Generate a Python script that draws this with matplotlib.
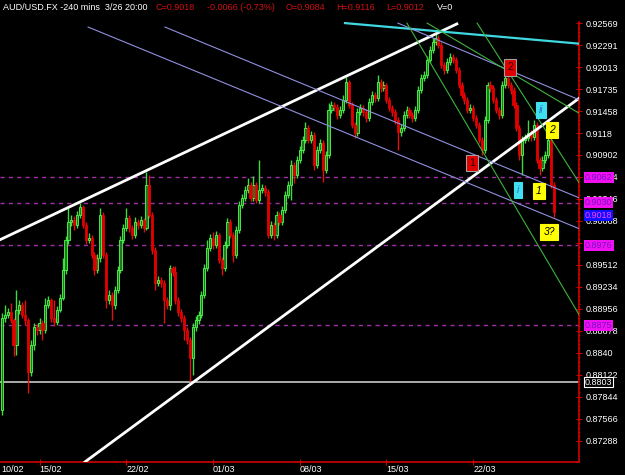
import matplotlib
matplotlib.use("Agg")
import matplotlib.pyplot as plt
from matplotlib.transforms import blended_transform_factory
import numpy as np

# AUD/USD 4h candles, 10/02 -> 26/03 20:00 (open of each bar = previous close)
first_open = 0.8768
closes = [
    0.8884, 0.8888, 0.8892, 0.8881, 0.8850, 0.8894, 0.8900, 0.8888, 0.8881, 0.8816,
    0.8850, 0.8873, 0.8869, 0.8878, 0.8869, 0.8900, 0.8907, 0.8884, 0.8879, 0.8894,
    0.8909, 0.8945, 0.8983, 0.9005, 0.9008, 0.9002, 0.9014, 0.9024, 0.9002, 0.8983,
    0.8985, 0.8964, 0.8945, 0.8960, 0.9014, 0.8964, 0.8907, 0.8913, 0.8900, 0.8919,
    0.8945, 0.8983, 0.8998, 0.9010, 0.8998, 0.8989, 0.9005, 0.9002, 0.9008, 0.8998,
    0.9052, 0.9014, 0.8970, 0.8928, 0.8932, 0.8928, 0.8907, 0.8900, 0.8947, 0.8942,
    0.8907, 0.8892, 0.8884, 0.8869, 0.8856, 0.8833, 0.8873, 0.8881, 0.8888, 0.8913,
    0.8947, 0.8973, 0.8985, 0.8976, 0.8989, 0.8957, 0.8947, 0.8976, 0.9005, 0.8989,
    0.8964, 0.8995, 0.9027, 0.9036, 0.9046, 0.9052, 0.9036, 0.9052, 0.9033, 0.9046,
    0.9048, 0.9043, 0.8989, 0.9002, 0.8989, 0.9014, 0.9005, 0.9021, 0.9040, 0.9052,
    0.9078, 0.9065, 0.9084, 0.9096, 0.9109, 0.9124, 0.9109, 0.9115, 0.9078, 0.9096,
    0.9105, 0.9071, 0.9090, 0.9147, 0.9153, 0.9151, 0.9141, 0.9147, 0.9160, 0.9182,
    0.9153, 0.9128, 0.9118, 0.9145, 0.9150, 0.9145, 0.9137, 0.9157, 0.9166, 0.9162,
    0.9182, 0.9175, 0.9179, 0.9160, 0.9150, 0.9145, 0.9134, 0.9119, 0.9124, 0.9141,
    0.9147, 0.9141, 0.9137, 0.9147, 0.9172, 0.9188, 0.9191, 0.9210, 0.9223, 0.9233,
    0.9238, 0.9229, 0.9204, 0.9198, 0.9208, 0.9214, 0.9210, 0.9198, 0.9179, 0.9166,
    0.9160, 0.9147, 0.9150, 0.9137, 0.9128, 0.9109, 0.9096, 0.9134, 0.9179, 0.9175,
    0.9160, 0.9147, 0.9141, 0.9179, 0.9188, 0.9179, 0.9172, 0.9153, 0.9124, 0.9090,
    0.9109, 0.9112, 0.9118, 0.9113, 0.9128, 0.9084, 0.9074, 0.9084, 0.9090, 0.9109,
    0.9052, 0.9018,
]
highs = [
    0.8890, 0.8900, 0.8897, 0.8903, 0.8884, 0.8919, 0.8907, 0.8904, 0.8907, 0.8884,
    0.8856, 0.8878, 0.8876, 0.8884, 0.8881, 0.8909, 0.8912, 0.8909, 0.8907, 0.8899,
    0.8914, 0.8960, 0.8988, 0.9023, 0.9014, 0.9013, 0.9019, 0.9029, 0.9027, 0.9005,
    0.8991, 0.8989, 0.8967, 0.8965, 0.9023, 0.9018, 0.8967, 0.8919, 0.8917, 0.8924,
    0.8950, 0.8988, 0.9003, 0.9023, 0.9014, 0.9002, 0.9012, 0.9009, 0.9013, 0.9010,
    0.9069, 0.9065, 0.9018, 0.8974, 0.8937, 0.8936, 0.8932, 0.8911, 0.8951, 0.8950,
    0.8950, 0.8911, 0.8895, 0.8888, 0.8873, 0.8860, 0.8878, 0.8887, 0.8893, 0.8918,
    0.8952, 0.8983, 0.8990, 0.8993, 0.8994, 0.8991, 0.8961, 0.8981, 0.9010, 0.9009,
    0.8993, 0.9000, 0.9032, 0.9041, 0.9051, 0.9061, 0.9056, 0.9064, 0.9056, 0.9084,
    0.9053, 0.9052, 0.9047, 0.9007, 0.9005, 0.9019, 0.9018, 0.9026, 0.9045, 0.9057,
    0.9084, 0.9081, 0.9089, 0.9102, 0.9114, 0.9132, 0.9128, 0.9121, 0.9119, 0.9102,
    0.9110, 0.9109, 0.9095, 0.9156, 0.9158, 0.9157, 0.9155, 0.9152, 0.9166, 0.9189,
    0.9185, 0.9157, 0.9132, 0.9150, 0.9155, 0.9153, 0.9148, 0.9162, 0.9171, 0.9170,
    0.9191, 0.9186, 0.9184, 0.9181, 0.9164, 0.9153, 0.9148, 0.9138, 0.9129, 0.9146,
    0.9152, 0.9151, 0.9145, 0.9152, 0.9177, 0.9193, 0.9196, 0.9215, 0.9228, 0.9238,
    0.9246, 0.9242, 0.9233, 0.9208, 0.9213, 0.9219, 0.9218, 0.9214, 0.9201, 0.9182,
    0.9170, 0.9164, 0.9155, 0.9153, 0.9141, 0.9132, 0.9113, 0.9139, 0.9182, 0.9184,
    0.9179, 0.9164, 0.9151, 0.9184, 0.9198, 0.9191, 0.9182, 0.9176, 0.9157, 0.9128,
    0.9114, 0.9117, 0.9134, 0.9122, 0.9134, 0.9132, 0.9088, 0.9089, 0.9095, 0.9115,
    0.9113, 0.9056,
]
lows = [
    0.8761, 0.8879, 0.8884, 0.8878, 0.8836, 0.8837, 0.8889, 0.8884, 0.8875, 0.8789,
    0.8811, 0.8844, 0.8862, 0.8864, 0.8856, 0.8865, 0.8897, 0.8879, 0.8874, 0.8875,
    0.8892, 0.8907, 0.8940, 0.8978, 0.9000, 0.8995, 0.8998, 0.9010, 0.8998, 0.8978,
    0.8979, 0.8960, 0.8938, 0.8941, 0.8955, 0.8960, 0.8897, 0.8902, 0.8881, 0.8895,
    0.8916, 0.8941, 0.8979, 0.8994, 0.8993, 0.8984, 0.8985, 0.8997, 0.8998, 0.8993,
    0.8995, 0.9010, 0.8965, 0.8919, 0.8924, 0.8923, 0.8878, 0.8895, 0.8894, 0.8937,
    0.8902, 0.8887, 0.8879, 0.8856, 0.8851, 0.8803, 0.8812, 0.8868, 0.8876, 0.8884,
    0.8909, 0.8943, 0.8969, 0.8971, 0.8973, 0.8954, 0.8938, 0.8943, 0.8973, 0.8985,
    0.8955, 0.8960, 0.8991, 0.9023, 0.9032, 0.9042, 0.9032, 0.9032, 0.9029, 0.9029,
    0.9042, 0.9038, 0.8985, 0.8985, 0.8983, 0.8985, 0.9002, 0.9002, 0.9017, 0.9036,
    0.9033, 0.9055, 0.9061, 0.9080, 0.9093, 0.9105, 0.9105, 0.9105, 0.9071, 0.9074,
    0.9093, 0.9056, 0.9067, 0.9086, 0.9143, 0.9146, 0.9136, 0.9137, 0.9143, 0.9156,
    0.9150, 0.9124, 0.9112, 0.9114, 0.9141, 0.9139, 0.9132, 0.9133, 0.9153, 0.9157,
    0.9158, 0.9170, 0.9171, 0.9156, 0.9146, 0.9139, 0.9129, 0.9096, 0.9114, 0.9121,
    0.9137, 0.9137, 0.9132, 0.9133, 0.9143, 0.9169, 0.9184, 0.9188, 0.9207, 0.9219,
    0.9229, 0.9226, 0.9200, 0.9193, 0.9194, 0.9204, 0.9207, 0.9194, 0.9175, 0.9162,
    0.9155, 0.9143, 0.9143, 0.9133, 0.9124, 0.9105, 0.9090, 0.9093, 0.9131, 0.9170,
    0.9156, 0.9143, 0.9136, 0.9137, 0.9175, 0.9175, 0.9167, 0.9150, 0.9121, 0.9084,
    0.9065, 0.9105, 0.9108, 0.9108, 0.9109, 0.9080, 0.9065, 0.9070, 0.9080, 0.9086,
    0.9048, 0.9012,
]

# date axis: first bar of each week
week_bars = [13, 43, 73, 103, 133, 163]
week_labels = ["15/02", "22/02", "01/03", "08/03", "15/03", "22/03"]

price_ticks = [0.92569, 0.92291, 0.92013, 0.91735, 0.91458, 0.9118, 0.90902, 0.90624,
               0.90346, 0.90068, 0.8979, 0.89512, 0.89234, 0.88956, 0.88678, 0.8840,
               0.88122, 0.87844, 0.87566, 0.87288]
price_tick_labels = ["0.92569", "0.92291", "0.92013", "0.91735", "0.91458", "0.9118",
                     "0.90902", "0.90624", "0.90346", "0.90068", "0.8979", "0.89512",
                     "0.89234", "0.88956", "0.88678", "0.8840", "0.88122", "0.87844",
                     "0.87566", "0.87288"]

# horizontal levels
dash_levels = [0.9062, 0.9030, 0.8976, 0.8875]
support_level = 0.8803
last_close = 0.9018

# drawn trend lines: (bar0, price0, bar1, price1)
white_lines = [(-0.7, 0.8983, 157.4, 0.9256), (28.7, 0.8702, 199.7, 0.9162)]
cyan_lines = [(118.7, 0.9257, 199.7, 0.9231)]
lavender_lines = [(137.0, 0.9257, 199.7, 0.9160), (56.4, 0.9252, 199.7, 0.9036),
                  (29.8, 0.9252, 199.7, 0.8997)]
green_lines = [(140.1, 0.9257, 199.7, 0.8888), (147.1, 0.9257, 199.7, 0.9143),
               (164.4, 0.9257, 199.7, 0.9055)]

# wave count labels: (bar, price, text, style)
wave_labels = [
    (162.6, 0.9080, "1", "red"), (175.8, 0.9201, "2", "red"),
    (186.5, 0.9147, "ii", "cyan"), (190.3, 0.9122, "2", "yellow"),
    (178.5, 0.9046, "i", "cyan"), (185.8, 0.9045, "1", "yellow"),
    (189.3, 0.8993, "3?", "yellow"),
]

plt.rcParams['font.family'] = ['Liberation Sans', 'DejaVu Sans']

fig = plt.figure(figsize=(6.25, 4.75), dpi=100, facecolor='black')
ax = fig.add_axes([0, 13 / 475, 579 / 625, 440 / 475], facecolor='black')

opens = np.array([first_open] + closes[:-1])
c = np.array(closes)
h = np.array(highs)
l = np.array(lows)
x = np.arange(len(c))
up = c >= opens

ax.vlines(x[up], l[up], h[up], color='#3cdc3c', lw=1.0, zorder=3)
ax.vlines(x[~up], l[~up], h[~up], color='#e01010', lw=1.0, zorder=3)
body_lo = np.minimum(opens, c)
body_h = np.maximum(np.abs(c - opens), 0.00004)
ax.bar(x[up], body_h[up], bottom=body_lo[up], width=0.75, color='#1f7a1f',
       edgecolor='#50ff50', lw=0.6, zorder=4)
ax.bar(x[~up], body_h[~up], bottom=body_lo[~up], width=0.75, color='#e00000',
       edgecolor='#e00000', lw=0.6, zorder=4)

for lv in dash_levels:
    ax.axhline(lv, color='#a030a8', lw=1, ls=(0, (3, 3)), zorder=2)
ax.axhline(support_level, color='#c8c8c8', lw=1.2, zorder=2)

for b0, p0, b1, p1 in white_lines:
    ax.plot([b0, b1], [p0, p1], color='white', lw=2, zorder=5)
for b0, p0, b1, p1 in cyan_lines:
    ax.plot([b0, b1], [p0, p1], color='#40d8e0', lw=1.6, zorder=5)
for b0, p0, b1, p1 in lavender_lines:
    ax.plot([b0, b1], [p0, p1], color='#9090e0', lw=0.8, zorder=5)
for b0, p0, b1, p1 in green_lines:
    ax.plot([b0, b1], [p0, p1], color='#3cb43c', lw=0.8, zorder=5)

styles = {
    "red": dict(fc='#e00000', ec='#a0a0a0', tc='#200000', it='normal'),
    "cyan": dict(fc='#40e0f0', ec='#40e0f0', tc='#3070c0', it='italic'),
    "yellow": dict(fc='#ffff00', ec='#ffff00', tc='black', it='italic'),
}
for b, p, txt, st in wave_labels:
    s = styles[st]
    ax.text(b, p, txt, color=s['tc'], fontsize=7.5, fontstyle=s['it'], ha='center',
            va='center', zorder=7,
            bbox=dict(boxstyle='square,pad=0.3', fc=s['fc'], ec=s['ec'], lw=0.8))

ax.set_xlim(-0.69, 199.65)
ax.set_ylim(0.87019, 0.92584)

for sp in ['top', 'left']:
    ax.spines[sp].set_visible(False)
for sp in ['right', 'bottom']:
    ax.spines[sp].set_color('#d00000')
    ax.spines[sp].set_linewidth(1.2)

ax.yaxis.tick_right()
ax.set_yticks(price_ticks)
ax.set_yticklabels(price_tick_labels)
ax.set_yticks(np.arange(0.87288, 0.9258, 0.00278 / 5), minor=True)
ax.tick_params(axis='y', which='major', colors='#d00000', labelcolor='white',
               labelsize=6.5, length=4, direction='inout', pad=3)
ax.tick_params(axis='y', which='minor', colors='#d00000', length=2, direction='inout')

ax.set_xticks(week_bars)
ax.set_xticklabels(week_labels)
ax.tick_params(axis='x', colors='#d00000', labelcolor='white', labelsize=6.5,
               length=4, direction='inout', pad=0)
for lbl in ax.get_xticklabels():
    lbl.set_ha('left')
fig.text(1 / 625, 6 / 475, "10/02", color='white', fontsize=6.5, va='center')

# price boxes on the axis
tr = blended_transform_factory(ax.transAxes, ax.transData)
box_x = 1 + 6 / 579
for lv in dash_levels:
    ax.text(box_x, lv, f"{lv:.4f}", transform=tr, color='#7a10c8', fontsize=6.5,
            va='center', ha='left', clip_on=False, zorder=8,
            bbox=dict(boxstyle='square,pad=0.1', fc='#f010f0', ec='none'))
ax.text(box_x, last_close - 0.0004, f"{last_close:.4f}", transform=tr, color='#ff40ff',
        fontsize=6.5, va='center', ha='left', clip_on=False, zorder=8,
        bbox=dict(boxstyle='square,pad=0.1', fc='#1010ff', ec='none'))
ax.text(box_x, support_level, f"{support_level:.4f}", transform=tr, color='white',
        fontsize=6.5, va='center', ha='left', clip_on=False, zorder=8,
        bbox=dict(boxstyle='square,pad=0.1', fc='black', ec='white', lw=0.8))

# header line
hy = 1 - 7 / 475
fig.text(3 / 625, hy, "AUD/USD.FX -240 mins  3/26 20:00", color='white', fontsize=6.5, va='center')
fig.text(155 / 625, hy, "C=0.9018", color='#d01010', fontsize=6.5, va='center')
fig.text(207 / 625, hy, "-0.0066 (-0.73%)", color='#d01010', fontsize=6.5, va='center')
fig.text(286 / 625, hy, "O=0.9084", color='#d01010', fontsize=6.5, va='center')
fig.text(336 / 625, hy, "H=0.9116", color='#d01010', fontsize=6.5, va='center')
fig.text(386 / 625, hy, "L=0.9012", color='#d01010', fontsize=6.5, va='center')
fig.text(437 / 625, hy, "V=0", color='white', fontsize=6.5, va='center')

fig.savefig("out.png", dpi=100, facecolor='black')
